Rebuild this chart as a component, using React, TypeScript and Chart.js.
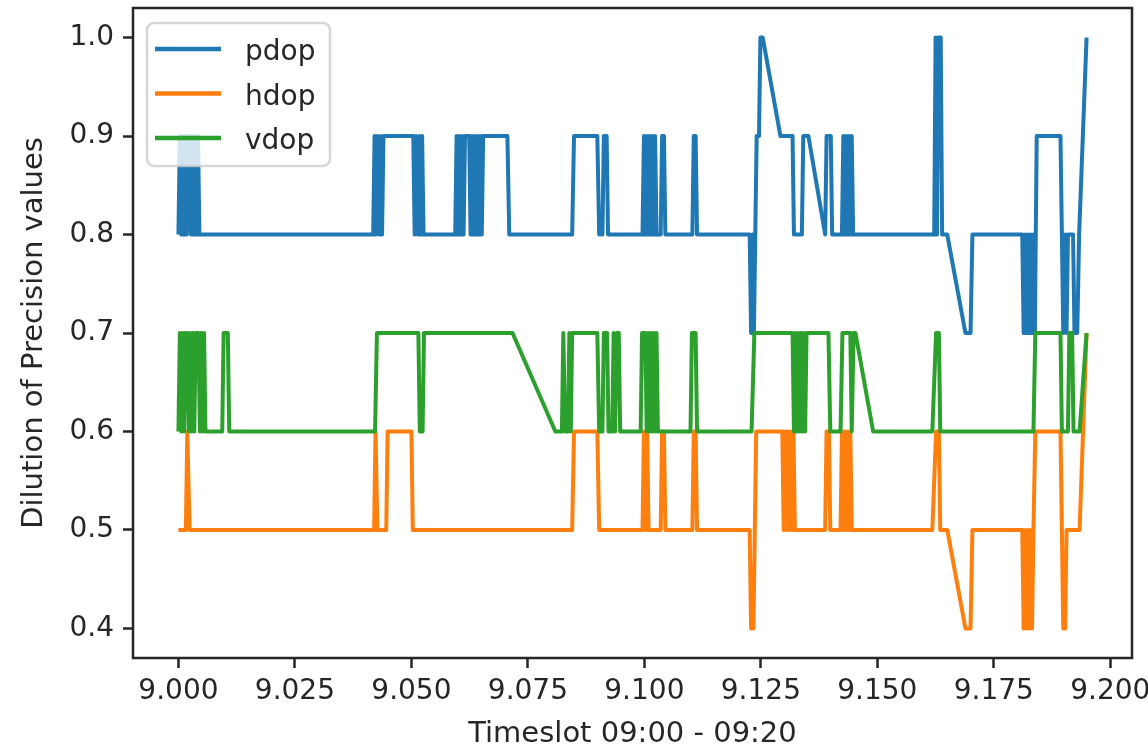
import React, { useEffect, useRef } from 'react';
import { Chart, registerables } from 'chart.js';

Chart.register(...registerables);

const xTicks = [9.0, 9.025, 9.05, 9.075, 9.1, 9.125, 9.15, 9.175, 9.2];
const yTicks = [0.4, 0.5, 0.6, 0.7, 0.8, 0.9, 1.0];
const seriesNames = ['pdop', 'hdop', 'vdop'];
const seriesColors = ['#1f77b4', '#ff7f0e', '#2ca02c'];
const xTitle = 'Timeslot 09:00 - 09:20';
const yTitle = 'Dilution of Precision values';

const pdop: [number, number][] = [
  [9.0000, 0.8], [9.0003, 0.9], [9.0006, 0.8], [9.0009, 0.9], [9.0012, 0.8], [9.0015, 0.9], [9.0018, 0.8], [9.0021, 0.9], [9.0024, 0.9], [9.0027, 0.8], [9.0030, 0.9], [9.0033, 0.8], [9.0036, 0.9], [9.0039, 0.8], [9.0042, 0.9], [9.0045, 0.8],
  [9.0418, 0.8], [9.0421, 0.9], [9.0424, 0.8], [9.0427, 0.9], [9.0431, 0.8], [9.0434, 0.9], [9.0437, 0.8], [9.0440, 0.9],
  [9.0504, 0.9], [9.0507, 0.8], [9.0510, 0.9], [9.0514, 0.8], [9.0517, 0.9], [9.0520, 0.8], [9.0523, 0.9], [9.0526, 0.8],
  [9.0594, 0.8], [9.0597, 0.9], [9.0600, 0.8], [9.0603, 0.9], [9.0606, 0.8], [9.0609, 0.9], [9.0612, 0.8], [9.0615, 0.9], [9.0624, 0.9], [9.0627, 0.8], [9.0630, 0.9], [9.0633, 0.8], [9.0636, 0.9], [9.0639, 0.8], [9.0642, 0.9], [9.0645, 0.8], [9.0648, 0.9], [9.0651, 0.8], [9.0654, 0.9],
  [9.0706, 0.9], [9.0710, 0.8],
  [9.0845, 0.8], [9.0849, 0.9], [9.0899, 0.9], [9.0903, 0.8],
  [9.0910, 0.8], [9.0913, 0.9], [9.0919, 0.9], [9.0922, 0.8],
  [9.0996, 0.8], [9.0999, 0.9], [9.1002, 0.8], [9.1005, 0.9], [9.1008, 0.8], [9.1011, 0.9], [9.1014, 0.8], [9.1017, 0.9], [9.1020, 0.8], [9.1023, 0.9], [9.1026, 0.8],
  [9.1035, 0.8], [9.1038, 0.9], [9.1042, 0.9], [9.1045, 0.8],
  [9.1103, 0.8], [9.1106, 0.9], [9.1110, 0.9], [9.1113, 0.8],
  [9.1226, 0.8], [9.1229, 0.7], [9.1232, 0.8], [9.1235, 0.7], [9.1238, 0.8], [9.1241, 0.9], [9.1246, 0.9], [9.1249, 1.0], [9.1254, 1.0],
  [9.1292, 0.9], [9.1318, 0.9], [9.1321, 0.8], [9.1338, 0.8], [9.1341, 0.9], [9.1352, 0.9],
  [9.1388, 0.8], [9.1391, 0.9], [9.1400, 0.9], [9.1403, 0.8],
  [9.1424, 0.8], [9.1427, 0.9], [9.1430, 0.8], [9.1433, 0.9], [9.1436, 0.8], [9.1439, 0.9], [9.1442, 0.8], [9.1445, 0.9], [9.1448, 0.8],
  [9.1622, 0.8], [9.1625, 1.0], [9.1628, 0.8], [9.1631, 1.0], [9.1636, 1.0], [9.1639, 0.8], [9.1650, 0.8],
  [9.1689, 0.7], [9.1700, 0.7], [9.1704, 0.8],
  [9.1811, 0.8], [9.1814, 0.7], [9.1817, 0.8], [9.1820, 0.7], [9.1823, 0.8], [9.1826, 0.7], [9.1829, 0.8], [9.1832, 0.7], [9.1835, 0.8], [9.1838, 0.7], [9.1842, 0.9],
  [9.1893, 0.9], [9.1896, 0.8], [9.1899, 0.7], [9.1903, 0.8], [9.1906, 0.7], [9.1909, 0.8],
  [9.1920, 0.8], [9.1923, 0.7], [9.1929, 0.7], [9.1933, 0.8], [9.1949, 1.0],
];

const hdop: [number, number][] = [
  [9.0000, 0.5], [9.0016, 0.5], [9.0019, 0.6], [9.0024, 0.5],
  [9.0420, 0.5], [9.0423, 0.6], [9.0427, 0.5], [9.0446, 0.5], [9.0449, 0.6], [9.0500, 0.6], [9.0503, 0.5],
  [9.0845, 0.5], [9.0849, 0.6], [9.0899, 0.6], [9.0903, 0.5],
  [9.0996, 0.5], [9.0999, 0.6], [9.1003, 0.5], [9.1006, 0.6], [9.1009, 0.5],
  [9.1035, 0.5], [9.1038, 0.6], [9.1042, 0.6], [9.1045, 0.5],
  [9.1103, 0.5], [9.1106, 0.6], [9.1110, 0.6], [9.1113, 0.5],
  [9.1226, 0.5], [9.1229, 0.4], [9.1234, 0.4], [9.1237, 0.5], [9.1240, 0.6],
  [9.1296, 0.6], [9.1299, 0.5], [9.1302, 0.6], [9.1305, 0.5], [9.1308, 0.6], [9.1311, 0.5], [9.1314, 0.6], [9.1317, 0.5], [9.1320, 0.6], [9.1323, 0.5],
  [9.1388, 0.5], [9.1391, 0.6], [9.1396, 0.6], [9.1399, 0.5],
  [9.1421, 0.5], [9.1424, 0.6], [9.1427, 0.5], [9.1430, 0.6], [9.1433, 0.5], [9.1436, 0.6], [9.1439, 0.5], [9.1442, 0.6], [9.1445, 0.5],
  [9.1618, 0.5], [9.1626, 0.6], [9.1632, 0.6], [9.1635, 0.5], [9.1650, 0.5],
  [9.1689, 0.4], [9.1700, 0.4], [9.1704, 0.5],
  [9.1811, 0.5], [9.1814, 0.4], [9.1817, 0.5], [9.1820, 0.4], [9.1823, 0.5], [9.1826, 0.4], [9.1829, 0.5], [9.1832, 0.4], [9.1835, 0.5], [9.1839, 0.6],
  [9.1893, 0.6], [9.1896, 0.5], [9.1899, 0.4], [9.1903, 0.4], [9.1906, 0.5],
  [9.1934, 0.5], [9.1949, 0.7],
];

const vdop: [number, number][] = [
  [9.0000, 0.6], [9.0003, 0.7], [9.0006, 0.6], [9.0009, 0.7], [9.0012, 0.6], [9.0015, 0.7], [9.0019, 0.7], [9.0022, 0.6], [9.0025, 0.7], [9.0028, 0.6], [9.0031, 0.7], [9.0034, 0.6], [9.0037, 0.7], [9.0043, 0.7], [9.0046, 0.6], [9.0049, 0.7], [9.0052, 0.6], [9.0055, 0.7], [9.0058, 0.6],
  [9.0094, 0.6], [9.0097, 0.7], [9.0106, 0.7], [9.0109, 0.6],
  [9.0422, 0.6], [9.0426, 0.7],
  [9.0515, 0.7], [9.0518, 0.6], [9.0524, 0.6], [9.0527, 0.7],
  [9.0717, 0.7], [9.0809, 0.6],
  [9.0823, 0.6], [9.0826, 0.7], [9.0830, 0.6], [9.0836, 0.6], [9.0839, 0.7], [9.0842, 0.6], [9.0845, 0.7],
  [9.0899, 0.7], [9.0903, 0.6],
  [9.0910, 0.6], [9.0913, 0.7], [9.0920, 0.7], [9.0923, 0.6],
  [9.0931, 0.6], [9.0934, 0.7], [9.0937, 0.6], [9.0941, 0.7], [9.0945, 0.7], [9.0948, 0.6],
  [9.0992, 0.6], [9.0995, 0.7], [9.1002, 0.7], [9.1005, 0.6], [9.1008, 0.7], [9.1011, 0.6], [9.1014, 0.7], [9.1017, 0.6], [9.1020, 0.7], [9.1023, 0.6], [9.1026, 0.7], [9.1029, 0.6],
  [9.1099, 0.6], [9.1102, 0.7], [9.1110, 0.7], [9.1113, 0.6],
  [9.1230, 0.6], [9.1236, 0.7],
  [9.1318, 0.7], [9.1321, 0.6], [9.1324, 0.7], [9.1327, 0.6], [9.1330, 0.7], [9.1333, 0.6], [9.1336, 0.7], [9.1339, 0.6], [9.1342, 0.7], [9.1345, 0.6], [9.1348, 0.7],
  [9.1395, 0.7], [9.1399, 0.6], [9.1421, 0.6], [9.1425, 0.7], [9.1442, 0.7], [9.1445, 0.6], [9.1449, 0.7], [9.1453, 0.7],
  [9.1491, 0.6],
  [9.1618, 0.6], [9.1626, 0.7], [9.1632, 0.7], [9.1635, 0.6],
  [9.1835, 0.6], [9.1839, 0.7], [9.1893, 0.7], [9.1896, 0.6],
  [9.1909, 0.6], [9.1912, 0.7], [9.1918, 0.7], [9.1921, 0.6],
  [9.1934, 0.6], [9.1949, 0.7],
];

const allSeries = [pdop, hdop, vdop];
const FONT = 'DejaVu Sans';
const TEXT = '#262626';

const framePlugin = {
  id: 'frameAndLegend',
  afterDatasetsDraw(chart: any) {
    const { ctx, chartArea: a } = chart;
    ctx.save();
    ctx.strokeStyle = TEXT;
    ctx.lineWidth = 2.5;
    ctx.strokeRect(a.left, a.top, a.right - a.left, a.bottom - a.top);

    // legend box
    const lx = a.left + 14;
    const ly = a.top + 15;
    const lw = 183;
    const lh = 143;
    const r = 7;
    ctx.beginPath();
    ctx.moveTo(lx + r, ly);
    ctx.arcTo(lx + lw, ly, lx + lw, ly + lh, r);
    ctx.arcTo(lx + lw, ly + lh, lx, ly + lh, r);
    ctx.arcTo(lx, ly + lh, lx, ly, r);
    ctx.arcTo(lx, ly, lx + lw, ly, r);
    ctx.closePath();
    ctx.fillStyle = 'rgba(255,255,255,0.8)';
    ctx.fill();
    ctx.strokeStyle = 'rgba(204,204,204,0.8)';
    ctx.lineWidth = 2.5;
    ctx.stroke();

    ctx.font = `28px "${FONT}"`;
    ctx.textBaseline = 'alphabetic';
    ctx.textAlign = 'left';
    seriesNames.forEach((name, i) => {
      const yy = ly + 26 + i * 44.5;
      ctx.strokeStyle = seriesColors[i];
      ctx.lineWidth = 4.5;
      ctx.lineCap = 'butt';
      ctx.beginPath();
      ctx.moveTo(lx + 8, yy);
      ctx.lineTo(lx + 74, yy);
      ctx.stroke();
      ctx.fillStyle = TEXT;
      ctx.fillText(name, lx + 98, yy + 11);
    });
    ctx.restore();
  },
};

export default function App() {
  const ref = useRef<HTMLCanvasElement>(null);

  useEffect(() => {
    const canvas = ref.current;
    if (!canvas) return;
    const chart = new Chart(canvas, {
      type: 'line',
      data: {
        datasets: allSeries.map((s, i) => ({
          label: seriesNames[i],
          data: s.map(([x, y]) => ({ x, y })),
          borderColor: seriesColors[i],
          backgroundColor: seriesColors[i],
          borderWidth: 4,
          pointRadius: 0,
          pointHoverRadius: 0,
          tension: 0,
          fill: false,
          borderJoinStyle: 'round' as const,
          borderCapStyle: 'butt' as const,
          order: 2 - i,
        })),
      },
      options: {
        responsive: false,
        animation: false,
        devicePixelRatio: 1,
        events: [],
        layout: { padding: { top: 8, right: 16, left: 0, bottom: 0 } },
        plugins: {
          legend: { display: false },
          tooltip: { enabled: false },
        },
        scales: {
          x: {
            type: 'linear',
            min: 8.99025,
            max: 9.20465,
            afterBuildTicks: (s: any) => {
              s.ticks = xTicks.map((v) => ({ value: v }));
            },
            afterFit: (s: any) => {
              s.height = 97;
              s.paddingLeft = 0;
              s.paddingRight = 0;
            },
            ticks: {
              callback: (v: any) => Number(v).toFixed(3),
              font: { family: FONT, size: 28 },
              color: TEXT,
              padding: 7,
              maxRotation: 0,
              autoSkip: false,
            },
            grid: {
              drawOnChartArea: false,
              drawTicks: true,
              tickLength: 10,
              tickWidth: 2.5,
              tickColor: TEXT,
            },
            border: { display: false },
            title: {
              display: true,
              text: xTitle,
              font: { family: FONT, size: 29 },
              color: TEXT,
              padding: { top: 0, bottom: 3 },
            },
          },
          y: {
            type: 'linear',
            min: 0.37,
            max: 1.03,
            afterBuildTicks: (s: any) => {
              s.ticks = yTicks.map((v) => ({ value: v }));
            },
            afterFit: (s: any) => {
              s.width = 133;
              s.paddingTop = 0;
              s.paddingBottom = 0;
            },
            ticks: {
              callback: (v: any) => Number(v).toFixed(1),
              font: { family: FONT, size: 28 },
              color: TEXT,
              padding: 9,
              autoSkip: false,
            },
            grid: {
              drawOnChartArea: false,
              drawTicks: true,
              tickLength: 10,
              tickWidth: 2.5,
              tickColor: TEXT,
            },
            border: { display: false },
            title: {
              display: true,
              text: yTitle,
              font: { family: FONT, size: 29 },
              color: TEXT,
              padding: { top: 17, bottom: 0 },
            },
          },
        },
      },
      plugins: [framePlugin],
    } as any);
    return () => chart.destroy();
  }, []);

  return (
    <div style={{ position: 'absolute', left: 0, top: 0, width: 1148, height: 755, background: '#fff' }}>
      <canvas ref={ref} width={1148} height={755} style={{ display: 'block', width: 1148, height: 755 }} />
    </div>
  );
}
